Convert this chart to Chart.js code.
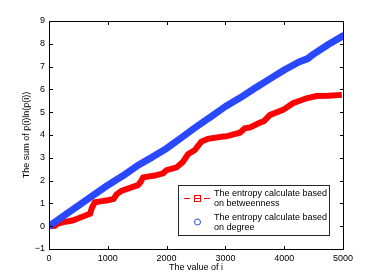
<!DOCTYPE html>
<html>
<head>
<meta charset="utf-8">
<script src="https://cdn.jsdelivr.net/npm/chart.js@4/dist/chart.umd.min.js"></script>
<style>
  html, body { margin: 0; padding: 0; background: #fff; }
  #wrap { width: 379px; height: 280px; position: relative; }
</style>
</head>
<body>
<div id="wrap"><canvas id="c"></canvas></div>
<script>
// values
const betweennessX = [0, 100, 150, 250, 400, 500, 600, 700, 730, 780, 900, 1000, 1100, 1150, 1230, 1400, 1513, 1560, 1600, 1800, 1940, 2000, 2170, 2280, 2365, 2480, 2590, 2700, 2960, 3000, 3245, 3330, 3420, 3590, 3650, 3760, 3980, 4150, 4380, 4550, 4750, 4980];
const betweennessY = [0, 0.02, 0.12, 0.18, 0.25, 0.35, 0.45, 0.55, 0.8, 1.05, 1.1, 1.14, 1.2, 1.4, 1.55, 1.7, 1.8, 1.95, 2.14, 2.22, 2.32, 2.46, 2.58, 2.83, 3.16, 3.34, 3.71, 3.83, 3.93, 3.93, 4.1, 4.29, 4.33, 4.55, 4.6, 4.88, 5.1, 5.39, 5.61, 5.71, 5.72, 5.76];

const degreeX = [0, 250, 500, 750, 1000, 1250, 1500, 1750, 2000, 2250, 2500, 2750, 3000, 3250, 3500, 3750, 4000, 4250, 4400, 4500, 4750, 5000];
const degreeY = [0, 0.45, 0.9, 1.35, 1.8, 2.2, 2.65, 3.02, 3.41, 3.88, 4.35, 4.8, 5.25, 5.63, 6.05, 6.45, 6.85, 7.2, 7.35, 7.55, 7.97, 8.35];

const xTicks = [0, 1000, 2000, 3000, 4000, 5000];
const yTicks = [-1, 0, 1, 2, 3, 4, 5, 6, 7, 8, 9];

const legendLabels = [
  ['The entropy calculate based', 'on betweenness'],
  ['The entropy calculate based', 'on degree']
];

const RED = '#ff0000';
const BLUE = '#2a48ff';
const FONT = { family: "'Liberation Sans', Arial, sans-serif", size: 9 };

const toPts = (xs, ys) => xs.map((x, i) => ({ x, y: ys[i] }));

// box round the plot, drawn as filled 1px strips, plus inward ticks
const frame = {
  id: 'frame',
  afterDraw(chart) {
    const ctx = chart.ctx, a = chart.chartArea;
    const sx = chart.scales.x, sy = chart.scales.y;
    const L = Math.round(a.left), R = Math.round(a.right);
    const T = Math.round(a.top), B = Math.round(a.bottom);
    ctx.save();
    ctx.fillStyle = '#000';
    ctx.fillRect(L, T, R - L + 1, 1);
    ctx.fillRect(L, B, R - L + 1, 1);
    ctx.fillRect(L, T, 1, B - T + 1);
    ctx.fillRect(R, T, 1, B - T + 1);
    xTicks.forEach(v => {
      const px = Math.round(sx.getPixelForValue(v));
      ctx.fillRect(px, B - 3, 1, 3);
      ctx.fillRect(px, T + 1, 1, 3);
    });
    yTicks.forEach(v => {
      const py = Math.round(sy.getPixelForValue(v));
      ctx.fillRect(L + 1, py, 3, 1);
      ctx.fillRect(R - 3, py, 3, 1);
    });
    ctx.restore();
  }
};

const legendBox = {
  id: 'legendBox',
  afterDraw(chart) {
    const ctx = chart.ctx;
    ctx.save();
    ctx.fillStyle = '#fff';
    ctx.fillRect(178.5, 185.5, 151, 50);
    ctx.strokeStyle = '#262626';
    ctx.lineWidth = 1;
    ctx.strokeRect(178.5, 185.5, 151, 50);

    ctx.strokeStyle = RED;
    ctx.beginPath();
    ctx.moveTo(184, 198.5); ctx.lineTo(190, 198.5);
    ctx.moveTo(204, 198.5); ctx.lineTo(210, 198.5);
    ctx.moveTo(194.5, 198.5); ctx.lineTo(200.5, 198.5);
    ctx.stroke();
    ctx.strokeRect(194.5, 195.5, 6, 6);

    ctx.strokeStyle = BLUE;
    ctx.beginPath();
    ctx.arc(197.5, 222, 3, 0, Math.PI * 2);
    ctx.stroke();

    ctx.fillStyle = '#000';
    ctx.font = `${FONT.size}px ${FONT.family}`;
    ctx.textBaseline = 'middle';
    ctx.fillText(legendLabels[0][0], 214, 193.5);
    ctx.fillText(legendLabels[0][1], 214, 203.5);
    ctx.fillText(legendLabels[1][0], 214, 217.5);
    ctx.fillText(legendLabels[1][1], 214, 227.5);
    ctx.restore();
  }
};

new Chart(document.getElementById('c'), {
  type: 'line',
  data: {
    datasets: [
      {
        label: legendLabels[0].join(' '),
        data: toPts(betweennessX, betweennessY),
        borderColor: RED,
        backgroundColor: RED,
        borderWidth: 6,
        pointRadius: 0,
        tension: 0,
        order: 1
      },
      {
        label: legendLabels[1].join(' '),
        data: toPts(degreeX, degreeY),
        borderColor: BLUE,
        backgroundColor: BLUE,
        borderWidth: 7,
        borderCapStyle: 'round',
        borderJoinStyle: 'round',
        pointRadius: 0,
        tension: 0,
        order: 0
      }
    ]
  },
  options: {
    responsive: true,
    maintainAspectRatio: false,
    animation: false,
    layout: { padding: { left: 0, right: 36, top: 21, bottom: 0 } },
    plugins: { legend: { display: false }, tooltip: { enabled: false } },
    scales: {
      x: {
        type: 'linear', min: 0, max: 5000,
        grid: { display: false, drawTicks: false },
        border: { display: false },
        ticks: { stepSize: 1000, font: FONT, color: '#000', padding: 4, maxRotation: 0,
          callback: v => String(v) },
        title: { display: true, text: 'The value of i', font: FONT, color: '#000', padding: { top: 0, bottom: 7 } },
        afterFit(s) { s.height = 31; }
      },
      y: {
        type: 'linear', min: -1, max: 9,
        grid: { display: false, drawTicks: false },
        border: { display: false },
        ticks: { stepSize: 1, font: FONT, color: '#000', padding: 4,
          callback: v => (v < 0 ? '\u2212' + Math.abs(v) : String(v)) },
        title: { display: true, text: 'The sum of p(i)ln(p(i))', font: FONT, color: '#000', padding: { top: 21, bottom: 0 } },
        afterFit(s) { s.width = 49; }
      }
    }
  },
  plugins: [frame, legendBox]
});
</script>
</body>
</html>
